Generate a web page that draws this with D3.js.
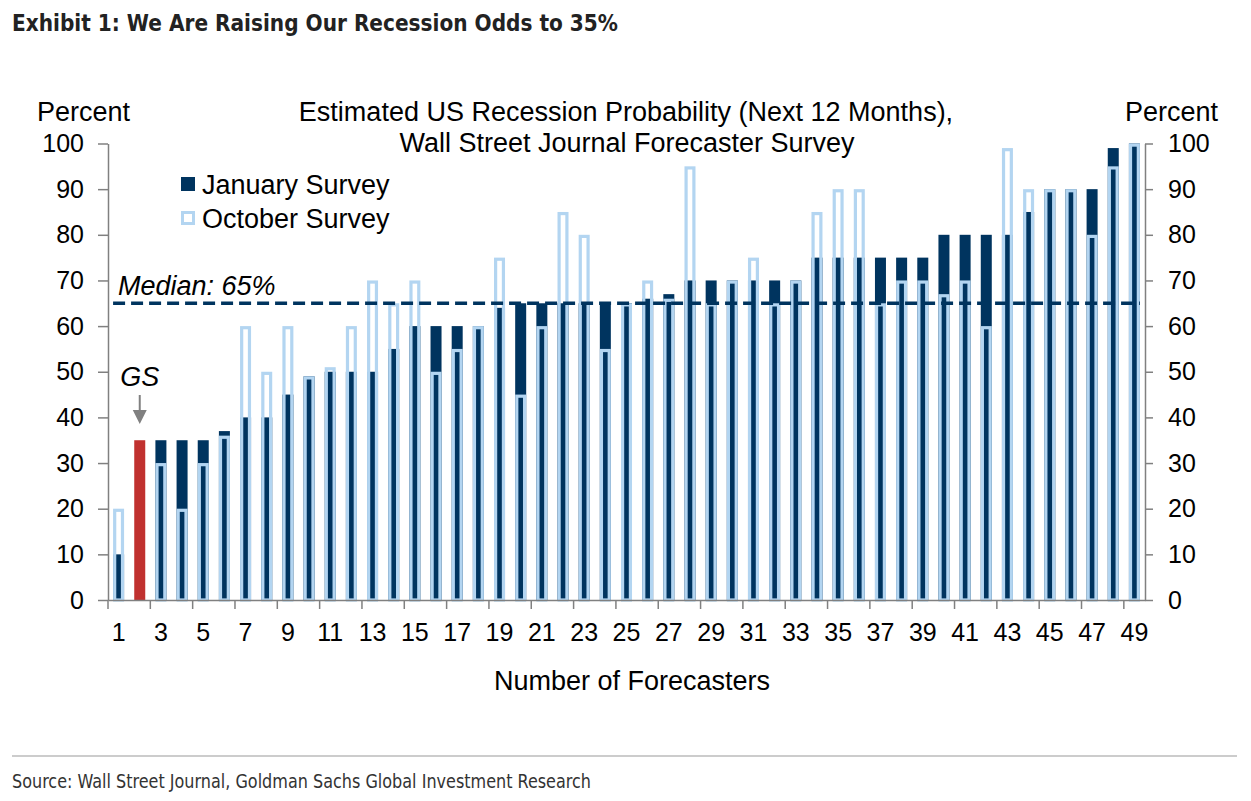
<!DOCTYPE html>
<html>
<head>
<meta charset="utf-8">
<script src="https://cdn.jsdelivr.net/npm/d3@7"></script>
<style>
  body { margin: 0; background: #fff; }
  svg { display: block; }
  text { font-family: "Liberation Sans", Arial, sans-serif; fill: #000; }
  .title { font-family: "Liberation Sans Narrow", "DejaVu Sans Condensed", sans-serif; font-weight: bold; font-size: 23px; fill: #222; }
  .source { font-family: "Liberation Sans Narrow", "DejaVu Sans Condensed", sans-serif; font-size: 19px; fill: #333; }
  .lbl { font-size: 27px; }
  .axis path, .axis line { stroke: #808080; stroke-width: 1.5; }
  .axis text { font-size: 25px; font-family: "Liberation Sans", Arial, sans-serif; }
</style>
</head>
<body>
<svg width="1251" height="801"></svg>
<script>
const forecasters = d3.range(1, 50);
const january = [10, 35, 35, 35, 35, 37, 40, 40, 45, 49, 50, 50, 50, 55, 60, 60, 60, 60, 64, 65,
  65, 65, 65, 65, 65, 66, 67, 70, 70, 70, 70, 70, 70, 75, 75, 75, 75, 75, 75, 80,
  80, 80, 80, 85, 90, 90, 90, 99, 100];
const october = [20, null, 30, 20, 30, 36, 60, 50, 60, 49, 51, 60, 70, 65, 70, 50, 55, 60, 75, 45,
  60, 85, 80, 55, 65, 70, 66, 95, 65, 70, 75, 65, 70, 85, 90, 90, 65, 70, 70, 67,
  70, 60, 99, 90, 90, 90, 80, 95, 100];
const gsForecaster = 2;
const median = 65;
const yTicks = d3.range(0, 101, 10);
const xLabels = forecasters.filter(d => d % 2 === 1);

const navy = '#00345f';
const lightBlue = '#b3d5f1';
const red = '#c0312f';

const plotLeft = 108, plotRight = 1145, plotTop = 143.5, plotBottom = 600;

const svg = d3.select('svg');

svg.append('text').attr('class', 'title')
  .attr('x', 12).attr('y', 31)
  .attr('textLength', 606).attr('lengthAdjust', 'spacingAndGlyphs')
  .text('Exhibit 1: We Are Raising Our Recession Odds to 35%');

const x = d3.scaleBand()
  .domain(forecasters)
  .range([plotLeft, plotRight])
  .paddingInner(0.48)
  .paddingOuter(0.24);

const y = d3.scaleLinear()
  .domain([0, 100])
  .range([plotBottom, plotTop]);

// chart titles
svg.append('text').attr('class', 'lbl')
  .attr('x', 626).attr('y', 121).attr('text-anchor', 'middle')
  .text('Estimated US Recession Probability (Next 12 Months),');
svg.append('text').attr('class', 'lbl')
  .attr('x', 627).attr('y', 152).attr('text-anchor', 'middle')
  .text('Wall Street Journal Forecaster Survey');
svg.append('text').attr('class', 'lbl')
  .attr('x', 37).attr('y', 121).text('Percent');
svg.append('text').attr('class', 'lbl')
  .attr('x', 1218).attr('y', 121).attr('text-anchor', 'end').text('Percent');

// january bars
svg.append('g').selectAll('rect')
  .data(forecasters)
  .join('rect')
  .attr('x', d => x(d))
  .attr('y', (d, i) => y(january[i]))
  .attr('width', x.bandwidth())
  .attr('height', (d, i) => y(0) - y(january[i]))
  .attr('fill', d => d === gsForecaster ? red : navy);

// october outlines
const sw = 3.2;
svg.append('g').selectAll('rect')
  .data(forecasters.filter((d, i) => october[i] != null))
  .join('rect')
  .attr('x', d => x(d) + sw / 2)
  .attr('y', d => y(october[d - 1]) + sw / 2)
  .attr('width', x.bandwidth() - sw)
  .attr('height', d => y(0) - y(october[d - 1]) - sw / 2)
  .attr('fill', 'none')
  .attr('stroke', lightBlue)
  .attr('stroke-width', sw);

// median line
svg.append('line')
  .attr('x1', x(1)).attr('x2', x(49) + x.bandwidth())
  .attr('y1', y(median)).attr('y2', y(median))
  .attr('stroke', navy)
  .attr('stroke-width', 3.5)
  .attr('stroke-dasharray', '12,6');
svg.append('text').attr('class', 'lbl')
  .attr('x', 118).attr('y', y(median) - 8)
  .style('font-style', 'italic')
  .text('Median: ' + median + '%');

// GS marker
const gx = x(gsForecaster) + x.bandwidth() / 2;
svg.append('text').attr('class', 'lbl')
  .attr('x', gx).attr('y', 386).attr('text-anchor', 'middle')
  .style('font-style', 'italic').text('GS');
svg.append('line')
  .attr('x1', gx).attr('x2', gx).attr('y1', 395).attr('y2', 412)
  .attr('stroke', '#808080').attr('stroke-width', 2);
svg.append('path')
  .attr('d', `M${gx - 7},410 L${gx + 7},410 L${gx},424 Z`)
  .attr('fill', '#808080');

// axes
svg.append('g').attr('class', 'axis')
  .attr('transform', `translate(${plotLeft},0)`)
  .call(d3.axisLeft(y).tickValues(yTicks).tickSize(10).tickPadding(14).tickSizeOuter(0));
svg.append('g').attr('class', 'axis')
  .attr('transform', `translate(${plotRight},0)`)
  .call(d3.axisRight(y).tickValues(yTicks).tickSize(8).tickPadding(15).tickSizeOuter(0));

const xAxis = svg.append('g').attr('class', 'axis')
  .attr('transform', `translate(0,${plotBottom})`)
  .call(d3.axisBottom(x).tickValues(xLabels).tickSize(0).tickPadding(23).tickSizeOuter(0));
xAxis.selectAll('.tick line').remove();
xAxis.selectAll('.tick').append('line')
  .attr('x1', -x.step() / 2).attr('x2', -x.step() / 2)
  .attr('y1', 0).attr('y2', 9);

svg.append('text').attr('class', 'lbl')
  .attr('x', 632).attr('y', 690).attr('text-anchor', 'middle')
  .text('Number of Forecasters');

// legend
svg.append('rect').attr('x', 181).attr('y', 177).attr('width', 14).attr('height', 14).attr('fill', navy);
svg.append('text').attr('class', 'lbl').attr('x', 202).attr('y', 194).text('January Survey');
svg.append('rect').attr('x', 182.5).attr('y', 212.5).attr('width', 11).attr('height', 11)
  .attr('fill', 'none').attr('stroke', lightBlue).attr('stroke-width', 3);
svg.append('text').attr('class', 'lbl').attr('x', 202).attr('y', 228).text('October Survey');

// footer
svg.append('line').attr('x1', 12).attr('x2', 1237).attr('y1', 756).attr('y2', 756)
  .attr('stroke', '#999').attr('stroke-width', 1);
svg.append('text').attr('class', 'source')
  .attr('x', 12).attr('y', 788)
  .attr('textLength', 579).attr('lengthAdjust', 'spacingAndGlyphs')
  .text('Source: Wall Street Journal, Goldman Sachs Global Investment Research');
</script>
</body>
</html>
